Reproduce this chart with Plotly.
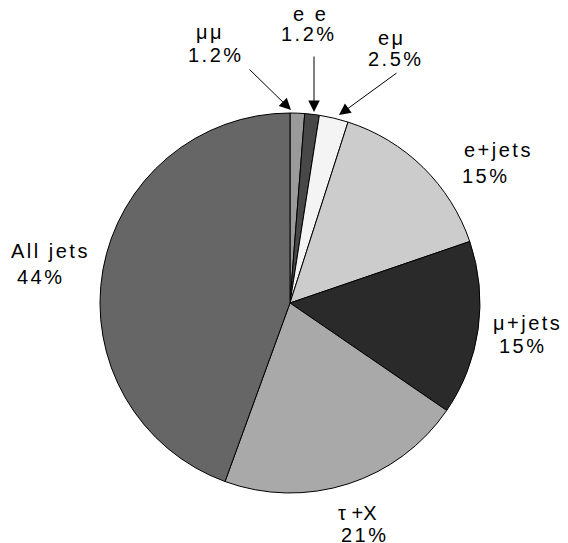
import plotly.graph_objects as go

# browser page has an 8px body margin: page pixel = figure pixel + 8
OFF = 8
W, H = 568 - OFF, 543 - OFF

channels = ["μμ", "e e", "eμ", "e+jets", "μ+jets", "τ +X", "All jets"]
fractions = [1, 1, 2, 12, 12, 17, 36]  # parts of 81
pct_labels = ["1.2%", "1.2%", "2.5%", "15%", "15%", "21%", "44%"]
colors = ["#9a9a9a", "#484848", "#f4f4f4", "#cccccc", "#2a2a2a", "#a9a9a9", "#666666"]

# (center x, baseline y) in page pixels for the name line and the percent line
name_pos = [(210, 39), (310, 21), (392, 45), (498, 157), (527, 330), (357, 520), (50, 258)]
pct_pos = [(216, 62), (309, 41), (396, 66), (486, 183), (523, 353), (365, 542), (41, 284)]
name_spacing = [2.5, 2.5, 2.5, 2.5, 2.5, 0, 2.5]

# arrows: head (page px), tail (page px)
arrows = [((291, 110), (248, 68)), ((314, 112), (314, 55)), ((339, 115), (398, 72))]

FS = 20


def px(x):
    return (x - OFF) / W


def py(y):
    return 1 - (y - OFF) / H


def base_to_mid(y):
    return y - 0.35 * FS


cx, cy, r = 290, 303, 190

fig = go.Figure(go.Pie(
    values=fractions,
    labels=channels,
    marker=dict(colors=colors, line=dict(color="black", width=1)),
    sort=False,
    direction="clockwise",
    rotation=0,
    textinfo="none",
    hoverinfo="label+percent",
    showlegend=False,
    domain=dict(x=[px(cx - r), px(cx + r)], y=[py(cy + r), py(cy - r)]),
))

font = dict(family="Liberation Sans, Arial, sans-serif", size=FS, color="black")


def spaced(t, s=2.5):
    if s == 0:
        return t
    return '<span style="letter-spacing:%spx">' % s + t + '</span>'


anns = []
for name, pct, (nx, ny), (qx, qy), sp in zip(channels, pct_labels, name_pos, pct_pos, name_spacing):
    anns.append(dict(x=px(nx), y=py(base_to_mid(ny)), xref="paper", yref="paper",
                     text=spaced(name, sp), showarrow=False, font=font,
                     xanchor="center", yanchor="middle"))
    anns.append(dict(x=px(qx), y=py(base_to_mid(qy)), xref="paper", yref="paper",
                     text=spaced(pct), showarrow=False, font=font,
                     xanchor="center", yanchor="middle"))
for (hx, hy), (tx, ty) in arrows:
    anns.append(dict(x=px(hx), y=py(hy), xref="paper", yref="paper", text="",
                     showarrow=True, ax=tx - hx, ay=ty - hy, axref="pixel", ayref="pixel",
                     arrowhead=2, arrowsize=2.3, arrowwidth=1, arrowcolor="black", standoff=0))

fig.update_layout(
    width=W, height=H,
    margin=dict(l=0, r=0, t=0, b=0),
    paper_bgcolor="white", plot_bgcolor="white",
    annotations=anns,
)

fig.write_html("out.html")
